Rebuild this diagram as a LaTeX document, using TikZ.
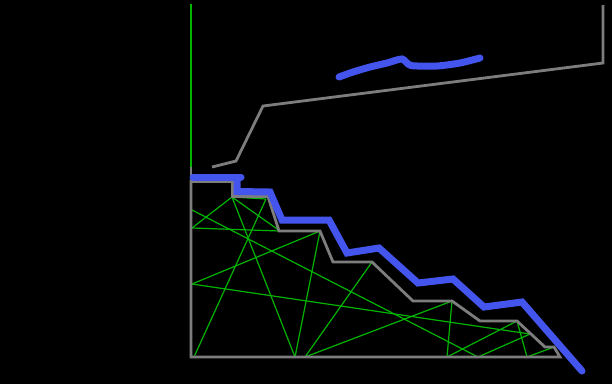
\documentclass[tikz,border=0pt]{standalone}
\definecolor{grn}{RGB}{0,180,0}
\definecolor{gry}{RGB}{125,125,125}
\definecolor{blu}{RGB}{68,85,238}
\begin{document}
\begin{tikzpicture}[x=1pt,y=-1pt,
  wire/.style={draw=grn, line width=1.2pt},
  outline/.style={draw=gry, line width=2.8pt, line join=miter},
  ridge/.style={draw=blu, line width=7pt, line cap=round, line join=miter}]
\fill[black] (0,0) rectangle (612,384);
\useasboundingbox (0,0) rectangle (612,384);
% points of the network
\coordinate (A) at (232,197);
\coordinate (B) at (266,199);
\coordinate (C) at (280,231);
\coordinate (D) at (320,231);
\coordinate (E) at (372,262);
\coordinate (F) at (452,301);
\coordinate (G) at (517,321);
\coordinate (H) at (554,347);
\coordinate (L1) at (192,210);
\coordinate (L2) at (192,228);
\coordinate (L3) at (192,284);
\coordinate (P1) at (194,357);
\coordinate (P2) at (295,357);
\coordinate (P3) at (305,357);
\coordinate (P4) at (447,357);
\coordinate (P5) at (478,357);
\coordinate (P6) at (527,357);
\coordinate (Q) at (530,334);
\coordinate (V0) at (191,4);
\coordinate (V1) at (191,167);
% green network
\draw[wire] (V0) -- (V1);
\draw[wire] (A) -- (L2);
\draw[wire] (A) -- (B);
\draw[wire] (A) -- (C);
\draw[wire] (A) -- (P2);
\draw[wire] (B) -- (P1);
\draw[wire] (L1) -- (P5);
\draw[wire] (L2) -- (C);
\draw[wire] (D) -- (L3);
\draw[wire] (D) -- (P2);
\draw[wire] (L3) -- (Q);
\draw[wire] (E) -- (P3);
\draw[wire] (F) -- (P3);
\draw[wire] (F) -- (P4);
\draw[wire] (G) -- (P4);
\draw[wire] (G) -- (P6);
\draw[wire] (P6) -- (H);
\draw[wire] (P5) -- (Q);
% gray outline
\draw[outline] (191,357) -- (191,181.5) -- (232.5,181.5) -- (232.5,196.5) -- (268,196.5)
  -- (279,231) -- (320,231) -- (333,262) -- (372,262) -- (413,301) -- (452,301)
  -- (480,321) -- (517,321) -- (545,347) -- (554,347) -- (560,357) -- cycle;
\draw[outline] (V1) -- (191,181.5);
\draw[outline] (212,167) -- (236,161) -- (263,106) -- (603,63) -- (603,5);
% blue strokes
\draw[ridge] (193,177) -- (241,177);
\draw[ridge] (237,178) -- (237,191.5) -- (270,192) -- (282,220) -- (329,220)
  -- (347,253) -- (379,248) -- (418,283) -- (453,279) -- (484,307) -- (522,302) -- (582,371);
\draw[ridge] plot[smooth, tension=0.4] coordinates {(339,77) (353,72) (370,67) (387,63) (402,59) (411,65.5) (437,66) (460,63) (480,58)};
\end{tikzpicture}
\end{document}
